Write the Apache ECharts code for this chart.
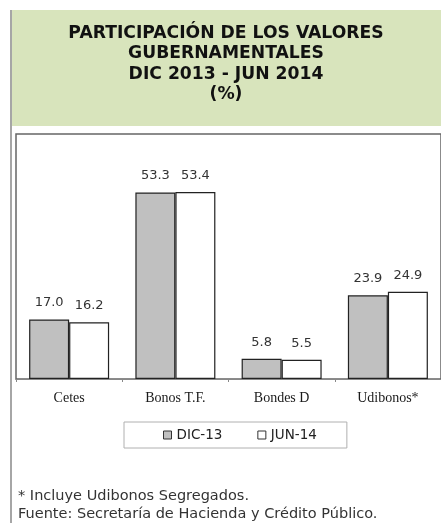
<!DOCTYPE html>
<html>
<head>
<meta charset="utf-8">
<script src="https://cdn.jsdelivr.net/npm/echarts@6/dist/echarts.min.js"></script>
<style>
  html, body { margin: 0; padding: 0; background: #fff; }
  #main { width: 441px; height: 529px; }
</style>
</head>
<body>
<div id="main"></div>
<script>
// 数据
const categories = ["Cetes", "Bonos T.F.", "Bondes D", "Udibonos*"];
const dic13 = [17.0, 53.3, 5.8, 23.9];
const jun14 = [16.2, 53.4, 5.5, 24.9];
const seriesNames = ["DIC-13", "JUN-14"];
const titleLines = ["PARTICIPACIÓN DE LOS VALORES", "GUBERNAMENTALES", "DIC 2013 - JUN 2014", "(%)"];
const notes = ["* Incluye Udibonos Segregados.", "Fuente: Secretaría de Hacienda y Crédito Público."];

const sansFont = "DejaVu Sans";
const serifFont = "Liberation Serif";

// 柱子的标签样式
const barLabel = {
  show: true,
  position: "top",
  distance: 10,
  color: "#333",
  fontFamily: sansFont,
  fontSize: 13,
  formatter: (p) => p.value.toFixed(1),
};

const option = {
  animation: false,
  backgroundColor: "#fff",
  graphic: [
    // 左侧灰线
    {
      type: "rect",
      shape: { x: 10, y: 10, width: 2, height: 513 },
      style: { fill: "#a6a6a6" },
      silent: true,
    },
    // 标题背景
    {
      type: "rect",
      shape: { x: 12, y: 10, width: 429, height: 116 },
      style: { fill: "#d8e4bc" },
      silent: true,
    },
    {
      type: "text",
      x: 226,
      y: 23,
      style: {
        text: titleLines.join("\n"),
        align: "center",
        fontFamily: sansFont,
        fontWeight: "bold",
        fontSize: 17.2,
        lineHeight: 20.5,
        fill: "#111",
      },
      silent: true,
    },
    // 注释
    {
      type: "text",
      x: 18,
      y: 487,
      style: {
        text: notes.join("\n"),
        fontFamily: sansFont,
        fontSize: 14.5,
        lineHeight: 18,
        fill: "#333",
      },
      silent: true,
    },
  ],
  legend: {
    data: seriesNames,
    left: 124,
    top: 422,
    padding: [6, 30, 6, 39],
    itemWidth: 8,
    itemHeight: 8,
    itemGap: 35,
    borderColor: "#b0b0b0",
    borderWidth: 1,
    icon: "rect",
    itemStyle: { borderColor: "#333", borderWidth: 1 },
    textStyle: { fontFamily: sansFont, fontSize: 13.5, color: "#222" },
  },
  grid: {
    left: 16,
    right: -4,
    top: 134,
    bottom: 150,
    show: true,
    borderColor: "#666",
    borderWidth: 1.5,
    containLabel: false,
  },
  xAxis: {
    type: "category",
    data: categories,
    axisLine: { lineStyle: { color: "#888", width: 1 } },
    axisTick: { show: true, length: 3, lineStyle: { color: "#888" } },
    axisLabel: {
      interval: 0,
      margin: 12,
      color: "#1a1a1a",
      fontFamily: serifFont,
      fontSize: 14,
    },
  },
  yAxis: {
    type: "value",
    min: 0,
    max: 70,
    show: false,
    splitLine: { show: false },
  },
  series: [
    {
      name: seriesNames[0],
      type: "bar",
      data: dic13,
      barWidth: 40,
      barGap: "0%",
      itemStyle: { color: "#c0c0c0", borderColor: "#222", borderWidth: 1.2 },
      label: barLabel,
    },
    {
      name: seriesNames[1],
      type: "bar",
      data: jun14,
      barWidth: 40,
      itemStyle: { color: "#ffffff", borderColor: "#222", borderWidth: 1.2 },
      label: barLabel,
    },
  ],
};

const chart = echarts.init(document.getElementById("main"));
chart.setOption(option);
</script>
</body>
</html>
